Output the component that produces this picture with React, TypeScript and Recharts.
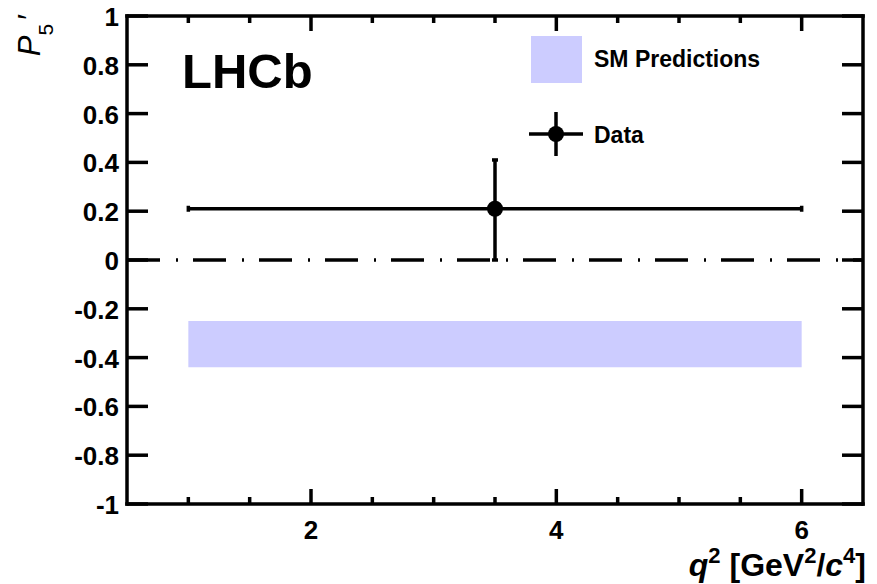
import React from "react";
import {
  ComposedChart,
  ErrorBar,
  Legend,
  ReferenceArea,
  ReferenceLine,
  Scatter,
  XAxis,
  YAxis,
} from "recharts";

// axis ranges and ticks
const Q2_RANGE: [number, number] = [0.5, 6.5];
const P5_RANGE: [number, number] = [-1, 1];
const X_TICKS = [1, 1.5, 2, 2.5, 3, 3.5, 4, 4.5, 5, 5.5, 6];
const X_LABELS = [2, 4, 6];
const Y_TICKS = [-1, -0.8, -0.6, -0.4, -0.2, 0, 0.2, 0.4, 0.6, 0.8, 1];

// measurement in the 1 < q2 < 6 bin
const DATA_Q2 = [3.5];
const DATA_P5 = [0.21];
const DATA_Q2_ERR = [2.5];
const DATA_P5_ERR_LO = [0.21];
const DATA_P5_ERR_HI = [0.2];

// SM prediction band for the same bin
const SM_Q2 = [1, 6];
const SM_P5_LO = -0.44;
const SM_P5_HI = -0.25;

const SM_COLOR = "#ccccff";
const FONT = "'Liberation Sans', Arial, Helvetica, sans-serif";
const LW = 3.5;

const points = DATA_Q2.map((q2, i) => ({
  q2,
  p5: DATA_P5[i],
  xErr: DATA_Q2_ERR[i],
  yErr: [DATA_P5_ERR_LO[i], DATA_P5_ERR_HI[i]],
}));

const axisLine = { stroke: "#000", strokeWidth: LW, strokeLinecap: "square" as const };

const labelStyle = {
  fontFamily: FONT,
  fontSize: 26,
  fontWeight: "bold" as const,
  fill: "#000",
};

function LeftTick({ x, y, payload }: any) {
  return (
    <g>
      <line x1={x} x2={x + 21} y1={y} y2={y} stroke="#000" strokeWidth={LW} />
      <text x={x - 8} y={y + 10} textAnchor="end" {...labelStyle}>
        {String(payload.value)}
      </text>
    </g>
  );
}

function RightTick({ x, y }: any) {
  return <line x1={x} x2={x - 21} y1={y} y2={y} stroke="#000" strokeWidth={LW} />;
}

function BottomTick({ x, y, payload }: any) {
  const major = X_LABELS.includes(payload.value);
  return (
    <g>
      <line x1={x} x2={x} y1={y} y2={y - (major ? 15 : 7)} stroke="#000" strokeWidth={LW} />
      {major && (
        <text x={x} y={y + 35} textAnchor="middle" {...labelStyle}>
          {String(payload.value)}
        </text>
      )}
    </g>
  );
}

function TopTick({ x, y, payload }: any) {
  const major = X_LABELS.includes(payload.value);
  return <line x1={x} x2={x} y1={y} y2={y + (major ? 15 : 7)} stroke="#000" strokeWidth={LW} />;
}

function DataMarker(props: any) {
  return <circle cx={props.cx} cy={props.cy} r={8} fill="#000" />;
}

function LegendBox() {
  const text = { fontFamily: FONT, fontSize: 23, fontWeight: "bold" as const, fill: "#000" };
  return (
    <svg width={250} height={130} style={{ display: "block", overflow: "visible" }}>
      <rect x={6} y={6} width={51} height={47} fill={SM_COLOR} />
      <text x={69} y={37} {...text}>SM Predictions</text>
      <line x1={4} x2={58} y1={104} y2={104} stroke="#000" strokeWidth={LW} />
      <line x1={31} x2={31} y1={82} y2={126} stroke="#000" strokeWidth={LW} />
      <circle cx={31} cy={104} r={8} fill="#000" />
      <text x={69} y={113} {...text}>Data</text>
    </svg>
  );
}

export default function App() {
  return (
    <div style={{ position: "absolute", left: 0, top: 0, width: 877, height: 584, background: "#fff" }}>
      <ComposedChart
        width={877}
        height={584}
        margin={{ top: 15, right: 13, bottom: 79, left: 126 }}
      >
        <XAxis
          xAxisId="bottom"
          type="number"
          dataKey="q2"
          domain={Q2_RANGE}
          ticks={X_TICKS}
          allowDataOverflow
          height={1}
          tickSize={0}
          tickMargin={0}
          tick={<BottomTick />}
          axisLine={axisLine}
          interval={0}
        />
        <XAxis
          xAxisId="top"
          orientation="top"
          type="number"
          dataKey="q2"
          domain={Q2_RANGE}
          ticks={X_TICKS}
          allowDataOverflow
          height={1}
          tickSize={0}
          tickMargin={0}
          tick={<TopTick />}
          axisLine={axisLine}
          interval={0}
        />
        <YAxis
          yAxisId="left"
          type="number"
          domain={P5_RANGE}
          ticks={Y_TICKS}
          allowDataOverflow
          width={1}
          tickSize={0}
          tickMargin={0}
          tick={<LeftTick />}
          axisLine={axisLine}
          interval={0}
        />
        <YAxis
          yAxisId="right"
          orientation="right"
          type="number"
          domain={P5_RANGE}
          ticks={Y_TICKS}
          allowDataOverflow
          width={1}
          tickSize={0}
          tickMargin={0}
          tick={<RightTick />}
          axisLine={axisLine}
          interval={0}
        />

        <ReferenceArea
          xAxisId="bottom"
          yAxisId="left"
          x1={SM_Q2[0]}
          x2={SM_Q2[1]}
          y1={SM_P5_LO}
          y2={SM_P5_HI}
          fill={SM_COLOR}
          fillOpacity={1}
          stroke="none"
        />
        <ReferenceLine
          xAxisId="bottom"
          yAxisId="left"
          y={0}
          stroke="#000"
          strokeWidth={LW}
          strokeDasharray="33 16 2 15"
        />

        <Scatter
          xAxisId="bottom"
          yAxisId="left"
          name="Data"
          data={points}
          dataKey="p5"
          shape={<DataMarker />}
          isAnimationActive={false}
        >
          <ErrorBar dataKey="xErr" direction="x" width={3} stroke="#000" strokeWidth={LW} />
          <ErrorBar dataKey="yErr" direction="y" width={3} stroke="#000" strokeWidth={LW} />
        </Scatter>

        <Legend
          layout="vertical"
          align="center"
          verticalAlign="middle"
          content={<LegendBox />}
          wrapperStyle={{ left: 525, top: 30, width: 250 }}
        />

        <text x={182} y={88} fontFamily={FONT} fontSize={49} fontWeight="bold" fill="#000">
          LHCb
        </text>

        <text x={866} y={576} textAnchor="end" fontFamily={FONT} fontSize={32} fontWeight="bold" fill="#000">
          <tspan fontStyle="italic">q</tspan>
          <tspan dy={-13} fontSize={22}>2</tspan>
          <tspan dy={13}>{" [GeV"}</tspan>
          <tspan dy={-13} fontSize={22}>2</tspan>
          <tspan dy={13}>/</tspan>
          <tspan fontStyle="italic">c</tspan>
          <tspan dy={-13} fontSize={22}>4</tspan>
          <tspan dy={13}>]</tspan>
        </text>

        <text
          transform="translate(40,14) rotate(-90)"
          textAnchor="end"
          fontFamily={FONT}
          fontSize={31}
          fill="#000"
        >
          <tspan fontStyle="italic">P</tspan>
          <tspan dy={13} fontSize={21}>5</tspan>
          <tspan dy={-13} dx={4}>′</tspan>
        </text>
      </ComposedChart>
    </div>
  );
}
